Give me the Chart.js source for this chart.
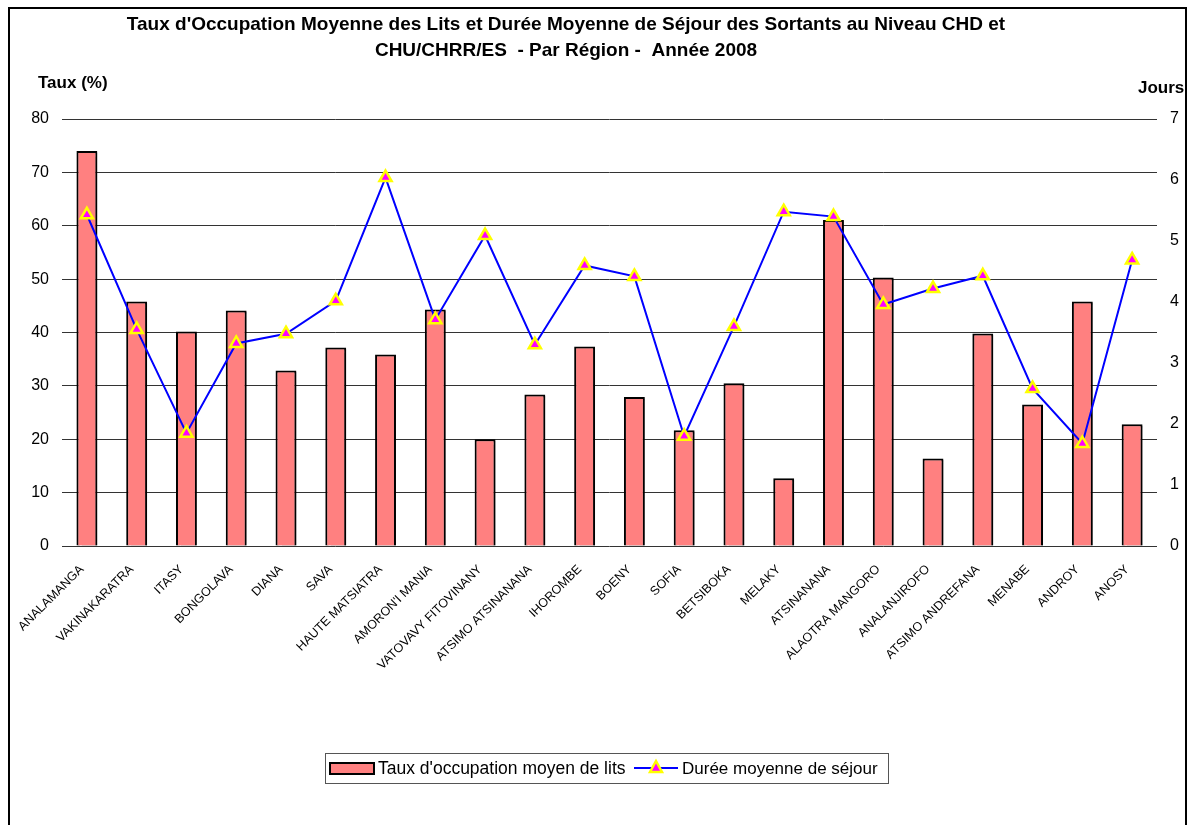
<!DOCTYPE html>
<html lang="fr">
<head>
    <meta charset="UTF-8">
    <title>Taux d'occupation et durée moyenne de séjour - 2008</title>
    <style>
        html, body { margin: 0; padding: 0; background: #fff; }
        .wrap { position: relative; width: 1190px; height: 825px; overflow: hidden; }
        .frame { position: absolute; left: 8px; top: 7px; width: 1179px; height: 840px; border: 2px solid #000; box-sizing: border-box; pointer-events: none; }
        canvas { position: absolute; left: 0; top: 0; }
    </style>
</head>
<body>
    <div class="wrap">
        <canvas id="chart" width="1190" height="825"></canvas>
        <div class="frame"></div>
    </div>

    <script src="https://cdn.jsdelivr.net/npm/chart.js"></script>
    <script>
        // Régions
        const regions = [
            'ANALAMANGA', 'VAKINAKARATRA', 'ITASY', 'BONGOLAVA', 'DIANA', 'SAVA',
            'HAUTE MATSIATRA', "AMORON'I MANIA", 'VATOVAVY FITOVINANY', 'ATSIMO ATSINANANA',
            'IHOROMBE', 'BOENY', 'SOFIA', 'BETSIBOKA', 'MELAKY', 'ATSINANANA',
            'ALAOTRA MANGORO', 'ANALANJIROFO', 'ATSIMO ANDREFANA', 'MENABE', 'ANDROY', 'ANOSY'
        ];

        // Taux d'occupation moyen de lits (%)
        const tauxOccupation = [
            74.0, 45.8, 40.2, 44.1, 32.9, 37.2,
            35.9, 44.3, 20.0, 28.4,
            37.4, 27.9, 21.7, 30.5, 12.7, 61.1,
            50.3, 16.4, 39.8, 26.5, 45.8, 22.8
        ];

        // Durée moyenne de séjour (jours)
        const dureeSejour = [
            5.43, 3.55, 1.85, 3.32, 3.48, 4.02,
            6.04, 3.71, 5.09, 3.30,
            4.60, 4.42, 1.80, 3.60, 5.48, 5.40,
            3.96, 4.22, 4.43, 2.58, 1.68, 4.69
        ];

        const titreLignes = [
            "Taux d'Occupation Moyenne des Lits et Durée Moyenne de Séjour des Sortants au Niveau CHD et",
            "CHU/CHRR/ES  - Par Région -  Année 2008"
        ];

        const FONT = "Arial, 'Liberation Sans', sans-serif";

        // ombre légère derrière les barres
        const shadowPlugin = {
            id: 'ombre',
            beforeDatasetDraw(chart, args) {
                if (args.meta.type !== 'bar') return;
                const ctx = chart.ctx;
                ctx.save();
                ctx.shadowColor = 'rgba(0,0,0,0.35)';
                ctx.shadowOffsetX = 1.5;
                ctx.shadowOffsetY = 1.5;
                ctx.shadowBlur = 1;
            },
            afterDatasetDraw(chart, args) {
                if (args.meta.type !== 'bar') return;
                chart.ctx.restore();
            }
        };

        // titre, titres d'axes et légende encadrée
        const decorPlugin = {
            id: 'decor',
            afterDraw(chart) {
                const ctx = chart.ctx;
                ctx.save();
                ctx.fillStyle = '#000';
                ctx.textBaseline = 'middle';

                ctx.font = 'bold 19px ' + FONT;
                ctx.textAlign = 'center';
                ctx.fillText(titreLignes[0], 566, 25);
                ctx.fillText(titreLignes[1], 566, 51);

                ctx.font = 'bold 17px ' + FONT;
                ctx.textAlign = 'left';
                ctx.fillText('Taux (%)', 38, 83);
                ctx.fillText('Jours', 1138, 88);

                // légende
                const lx = 325, ly = 753, lw = 563, lh = 30;
                ctx.fillStyle = '#fff';
                ctx.fillRect(lx, ly, lw, lh);
                ctx.strokeStyle = '#555';
                ctx.lineWidth = 1;
                ctx.strokeRect(lx + 0.5, ly + 0.5, lw, lh);

                ctx.fillStyle = '#FF8080';
                ctx.fillRect(330, 763, 44, 11);
                ctx.strokeStyle = '#000';
                ctx.lineWidth = 2;
                ctx.strokeRect(330, 763, 44, 11);

                ctx.fillStyle = '#000';
                ctx.font = '17.5px ' + FONT;
                ctx.fillText("Taux d'occupation moyen de lits", 378, 769);

                ctx.strokeStyle = '#0000FF';
                ctx.lineWidth = 2;
                ctx.beginPath();
                ctx.moveTo(634, 768);
                ctx.lineTo(678, 768);
                ctx.stroke();
                ctx.fillStyle = '#FF00FF';
                ctx.strokeStyle = '#FFFF00';
                ctx.lineWidth = 2.5;
                ctx.beginPath();
                ctx.moveTo(656, 761);
                ctx.lineTo(662, 772);
                ctx.lineTo(650, 772);
                ctx.closePath();
                ctx.fill();
                ctx.stroke();

                ctx.fillStyle = '#000';
                ctx.font = '17px ' + FONT;
                ctx.fillText('Durée moyenne de séjour', 682, 769);
                ctx.restore();
            }
        };

        new Chart(document.getElementById('chart').getContext('2d'), {
            type: 'bar',
            data: {
                labels: regions,
                datasets: [{
                    type: 'line',
                    label: 'Durée moyenne de séjour',
                    data: dureeSejour,
                    yAxisID: 'y1',
                    borderColor: '#0000FF',
                    borderWidth: 2,
                    pointStyle: 'triangle',
                    pointRadius: 7,
                    pointBorderWidth: 2.5,
                    pointBackgroundColor: '#FF00FF',
                    pointBorderColor: '#FFFF00',
                    tension: 0,
                    fill: false
                }, {
                    type: 'bar',
                    label: "Taux d'occupation moyen de lits",
                    data: tauxOccupation,
                    yAxisID: 'y',
                    backgroundColor: '#FF8080',
                    borderColor: '#000',
                    borderWidth: 2,
                    barPercentage: 0.42,
                    categoryPercentage: 1
                }]
            },
            options: {
                responsive: false,
                animation: false,
                layout: { padding: { top: 119, left: 0, right: 0, bottom: 0 } },
                plugins: {
                    legend: { display: false },
                    title: { display: false },
                    tooltip: { enabled: false }
                },
                scales: {
                    x: {
                        grid: { display: false },
                        border: { display: false },
                        ticks: {
                            autoSkip: false,
                            minRotation: 45,
                            maxRotation: 45,
                            padding: 8,
                            labelOffset: -5,
                            color: '#000',
                            font: { family: FONT, size: 12.5 }
                        },
                        afterFit(s) { s.height = 279; }
                    },
                    y: {
                        position: 'left',
                        min: 0,
                        max: 80,
                        ticks: {
                            stepSize: 10,
                            color: '#000',
                            padding: 13,
                            font: { family: FONT, size: 16 }
                        },
                        grid: { color: '#333', lineWidth: 1, drawTicks: false },
                        border: { display: false },
                        afterFit(s) { s.width = 62; }
                    },
                    y1: {
                        position: 'right',
                        min: 0,
                        max: 7,
                        ticks: {
                            stepSize: 1,
                            color: '#000',
                            padding: 13,
                            font: { family: FONT, size: 16 }
                        },
                        grid: { display: false, drawTicks: false },
                        border: { display: false },
                        afterFit(s) { s.width = 33; }
                    }
                }
            },
            plugins: [shadowPlugin, decorPlugin]
        });
    </script>
</body>
</html>
